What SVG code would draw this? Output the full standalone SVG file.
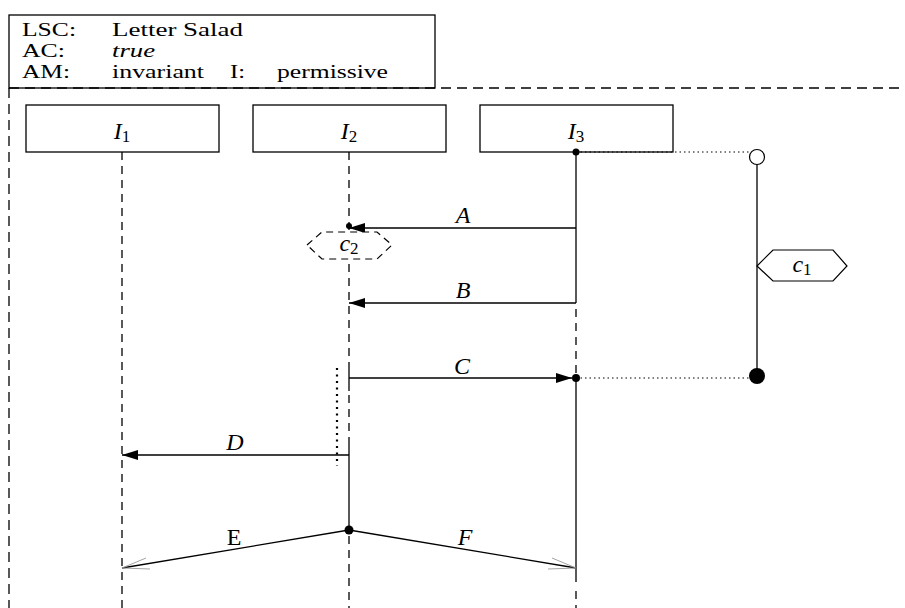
<svg xmlns="http://www.w3.org/2000/svg" width="905" height="608" viewBox="0 0 905 608">
<defs>
<marker id="ah" markerUnits="userSpaceOnUse" markerWidth="18" markerHeight="12" refX="16" refY="5" orient="auto">
<path d="M0,0 L16,5 L0,10 Z" fill="#000"/>
</marker>
<style>
.t{font-family:"Liberation Serif","DejaVu Serif",serif;font-size:19px;fill:#000}
.i{font-family:"Liberation Serif","DejaVu Serif",serif;font-size:24px;font-style:italic;fill:#000}
.r{font-family:"Liberation Serif","DejaVu Serif",serif;font-size:24px;fill:#000}
.sub{font-size:17px;font-style:normal}
.box{fill:#fff;stroke:#000;stroke-width:1.3}
.dash{fill:none;stroke:#000;stroke-width:1.3;stroke-dasharray:10,6}
.ll{fill:none;stroke:#000;stroke-width:1.3;stroke-dasharray:8,6}
.sol{fill:none;stroke:#222;stroke-width:1.5}
.msg{fill:none;stroke:#000;stroke-width:1.3}
.dot{fill:none;stroke:#000;stroke-width:1;stroke-dasharray:1.5,3}
.barb{fill:none;stroke:#999;stroke-width:0.9}
</style>
</defs>
<rect width="905" height="608" fill="#fff"/>

<g id="header">
<rect class="box" x="9" y="15" width="426" height="73"/>
<text class="t" x="22" y="36" textLength="54" lengthAdjust="spacingAndGlyphs">LSC:</text>
<text class="t" x="112" y="36" textLength="131" lengthAdjust="spacingAndGlyphs">Letter Salad</text>
<text class="t" x="22" y="57" textLength="43" lengthAdjust="spacingAndGlyphs">AC:</text>
<text class="t" x="112" y="57" font-style="italic" textLength="43" lengthAdjust="spacingAndGlyphs">true</text>
<text class="t" x="22" y="78" textLength="48" lengthAdjust="spacingAndGlyphs">AM:</text>
<text class="t" x="112" y="78" textLength="92" lengthAdjust="spacingAndGlyphs">invariant</text>
<text class="t" x="230" y="78" textLength="15" lengthAdjust="spacingAndGlyphs">I:</text>
<text class="t" x="277" y="78" textLength="111" lengthAdjust="spacingAndGlyphs">permissive</text>
</g>

<g id="frame">
<line class="dash" x1="9" y1="88" x2="905" y2="88"/>
<line class="dash" x1="9" y1="88" x2="9" y2="608"/>
</g>

<g id="lifelines">
<line class="ll" x1="122" y1="152" x2="122" y2="608"/>
<line class="ll" x1="349" y1="152" x2="349" y2="368"/>
<line class="sol" x1="349" y1="368" x2="349" y2="391"/>
<line class="ll" x1="349" y1="395" x2="349" y2="442"/>
<line class="sol" x1="349" y1="442" x2="349" y2="530"/>
<line class="ll" x1="349" y1="536" x2="349" y2="608"/>
<line class="sol" x1="576" y1="152" x2="576" y2="303"/>
<line class="ll" x1="576" y1="309" x2="576" y2="378"/>
<line class="sol" x1="576" y1="378" x2="576" y2="582"/>
<line class="ll" x1="576" y1="591" x2="576" y2="608"/>
</g>

<g id="I1">
<rect class="box" x="26" y="105" width="193" height="47"/>
<text class="i" x="122" y="139" text-anchor="middle">I<tspan class="sub" dy="3">1</tspan></text>
</g>
<g id="I2">
<rect class="box" x="253" y="105" width="193" height="47"/>
<text class="i" x="349" y="139" text-anchor="middle">I<tspan class="sub" dy="3">2</tspan></text>
</g>
<g id="I3">
<rect class="box" x="480" y="105" width="193" height="47"/>
<text class="i" x="576" y="139" text-anchor="middle">I<tspan class="sub" dy="3">3</tspan></text>
</g>

<g id="connectors">
<line class="dot" x1="576" y1="152" x2="750" y2="152"/>
<line class="dot" x1="576" y1="378" x2="750" y2="378"/>
<line class="msg" x1="576" y1="228" x2="349" y2="228" marker-end="url(#ah)"/>
<line class="msg" x1="576" y1="303" x2="349" y2="303" marker-end="url(#ah)"/>
<line class="msg" x1="349" y1="378" x2="572" y2="378" marker-end="url(#ah)"/>
<line class="msg" x1="349" y1="455" x2="122" y2="455" marker-end="url(#ah)"/>
<line class="msg" x1="349" y1="530" x2="122" y2="568"/>
<line class="msg" x1="349" y1="530" x2="576" y2="568"/>
<polyline class="barb" points="146,558 122,568 150,569"/>
<polyline class="barb" points="552,558 576,568 548,569"/>
<line x1="337" y1="368" x2="337" y2="466" stroke="#000" stroke-width="2.2" stroke-dasharray="2,4.5"/>
<circle cx="349" cy="226" r="3" fill="#000"/>
<circle cx="576" cy="152" r="3.5" fill="#000"/>
<circle cx="576" cy="378" r="4" fill="#000"/>
<circle cx="349" cy="530" r="4.5" fill="#000"/>
<text class="i" x="463" y="223" text-anchor="middle">A</text>
<text class="i" x="463" y="298" text-anchor="middle">B</text>
<text class="i" x="462" y="374" text-anchor="middle">C</text>
<text class="i" x="235" y="450" text-anchor="middle">D</text>
<text class="r" x="234" y="545" text-anchor="middle">E</text>
<text class="i" x="465" y="545" text-anchor="middle">F</text>
</g>

<g id="c2">
<polygon points="307,245 322,232 377,232 392,245 377,259 322,259" fill="#fff" stroke="#000" stroke-width="1.2" stroke-dasharray="7,5"/>
<text class="i" x="349" y="251" text-anchor="middle">c<tspan class="sub" dy="3">2</tspan></text>
</g>

<g id="c1">
<line class="msg" x1="757" y1="164" x2="757" y2="376"/>
<circle cx="757" cy="157" r="7.5" fill="#fff" stroke="#000" stroke-width="1.2"/>
<circle cx="757" cy="376" r="8" fill="#000"/>
<polygon points="757,266 773,250 833,250 847,266 833,281 773,281" fill="#fff" stroke="#000" stroke-width="1.2"/>
<text class="i" x="802" y="272" text-anchor="middle">c<tspan class="sub" dy="3">1</tspan></text>
</g>
</svg>
